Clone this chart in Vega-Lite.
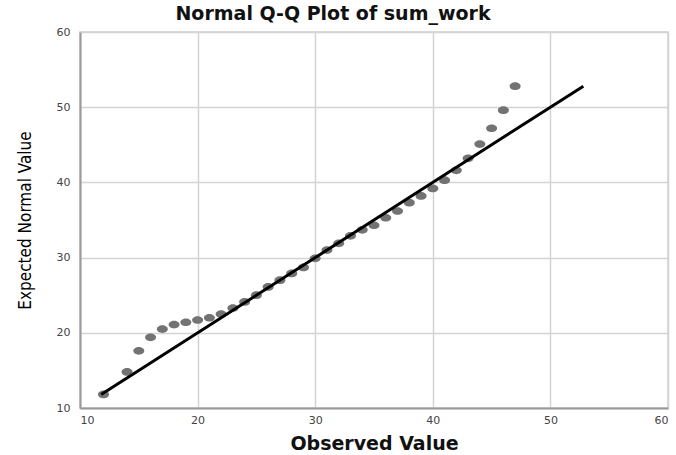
{
  "$schema": "https://vega.github.io/schema/vega-lite/v6.json",
  "autosize": "none",
  "width": 588,
  "height": 376,
  "padding": {"left": 80, "top": 32, "right": 8, "bottom": 47},
  "background": "white",
  "config": {
    "view": {"stroke": "#d0d0d0", "strokeWidth": 1.5},
    "font": "Liberation Sans"
  },
  "title": {
    "text": "Normal Q-Q Plot of sum_work",
    "fontSize": 19,
    "fontWeight": "bold",
    "font": "DejaVu Sans",
    "color": "#111",
    "anchor": "middle",
    "dx": -41,
    "offset": 2
  },
  "datasets": {
    "points": [
      {"observed": 12, "expected": 11.8},
      {"observed": 14, "expected": 14.8},
      {"observed": 15, "expected": 17.6},
      {"observed": 16, "expected": 19.4},
      {"observed": 17, "expected": 20.5},
      {"observed": 18, "expected": 21.1},
      {"observed": 19, "expected": 21.4},
      {"observed": 20, "expected": 21.7},
      {"observed": 21, "expected": 22.0},
      {"observed": 22, "expected": 22.5},
      {"observed": 23, "expected": 23.3},
      {"observed": 24, "expected": 24.1},
      {"observed": 25, "expected": 25.0},
      {"observed": 26, "expected": 26.1},
      {"observed": 27, "expected": 27.0},
      {"observed": 28, "expected": 27.9},
      {"observed": 29, "expected": 28.7},
      {"observed": 30, "expected": 29.9},
      {"observed": 31, "expected": 31.0},
      {"observed": 32, "expected": 31.9},
      {"observed": 33, "expected": 32.9},
      {"observed": 34, "expected": 33.7},
      {"observed": 35, "expected": 34.3},
      {"observed": 36, "expected": 35.3},
      {"observed": 37, "expected": 36.2},
      {"observed": 38, "expected": 37.3},
      {"observed": 39, "expected": 38.2},
      {"observed": 40, "expected": 39.2},
      {"observed": 41, "expected": 40.3},
      {"observed": 42, "expected": 41.6},
      {"observed": 43, "expected": 43.2},
      {"observed": 44, "expected": 45.1},
      {"observed": 45, "expected": 47.2},
      {"observed": 46, "expected": 49.6},
      {"observed": 47, "expected": 52.8}
    ],
    "line": [
      {"observed": 11.8, "expected": 11.8},
      {"observed": 52.8, "expected": 52.8}
    ]
  },
  "encoding": {
    "x": {
      "field": "observed",
      "type": "quantitative",
      "scale": {"domain": [10, 60], "nice": false, "zero": false},
      "axis": {
        "title": "Observed Value",
        "titleFont": "DejaVu Sans",
        "titleFontSize": 19,
        "titleFontWeight": "bold",
        "titleColor": "#111",
        "titlePadding": 9,
        "values": [10, 20, 30, 40, 50, 60],
        "labelFont": "DejaVu Sans",
        "labelFontSize": 11,
        "labelColor": "#444",
        "labelPadding": 6,
        "ticks": false,
        "domainColor": "#999",
        "domainWidth": 2,
        "gridColor": "#d4d4d4",
        "gridWidth": 1.5,
        "grid": true
      }
    },
    "y": {
      "field": "expected",
      "type": "quantitative",
      "scale": {"domain": [10, 60], "nice": false, "zero": false},
      "axis": {
        "title": "Expected Normal Value",
        "titleFont": "DejaVu Sans Condensed",
        "titleFontSize": 17,
        "titleFontWeight": "normal",
        "titleColor": "#000",
        "titlePadding": 22,
        "values": [10, 20, 30, 40, 50, 60],
        "labelFont": "DejaVu Sans",
        "labelFontSize": 11,
        "labelColor": "#444",
        "labelPadding": 10,
        "ticks": false,
        "domainColor": "#999",
        "domainWidth": 2,
        "gridColor": "#d4d4d4",
        "gridWidth": 1.5,
        "grid": true
      }
    }
  },
  "layer": [
    {
      "data": {"name": "points"},
      "mark": {
        "type": "point",
        "filled": true,
        "shape": "M -1 0 A 1 0.7 0 1 0 1 0 A 1 0.7 0 1 0 -1 0 Z",
        "size": 121,
        "color": "#737373",
        "opacity": 1
      }
    },
    {
      "data": {"name": "line"},
      "mark": {"type": "line", "color": "#000", "strokeWidth": 3}
    }
  ]
}
